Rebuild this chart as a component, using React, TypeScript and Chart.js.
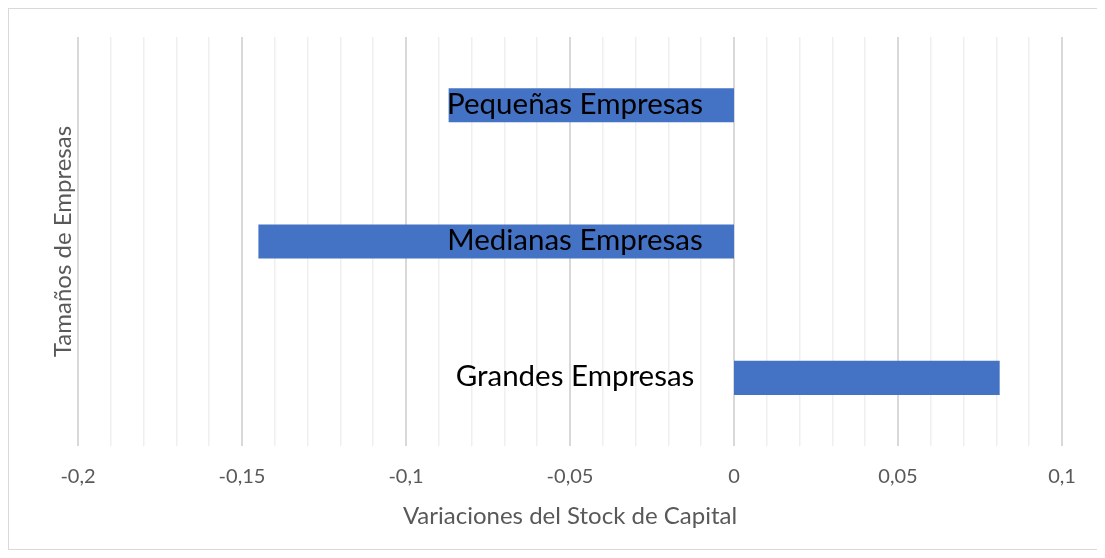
import React, { useEffect, useRef } from "react";
import { Chart, registerables } from "chart.js";

Chart.register(...registerables);

const categories = ["Pequeñas Empresas", "Medianas Empresas", "Grandes Empresas"];
const values = [-0.087, -0.145, 0.081];
const xMin = -0.2;
const xMax = 0.1;
const minorStep = 0.01;
const majorStep = 0.05;
const xTitle = "Variaciones del Stock de Capital";
const yTitle = "Tamaños de Empresas";

const FONT = "Lato, 'Open Sans', sans-serif";

const isMajor = (v: number) => Math.abs(v / majorStep - Math.round(v / majorStep)) < 1e-6;

const categoryLabelPlugin = {
  id: "categoryLabels",
  afterDatasetsDraw(chart: any) {
    const { ctx } = chart;
    const xs = chart.scales.x;
    const ys = chart.scales.y;
    const zero = xs.getPixelForValue(0);
    ctx.save();
    ctx.font = `29.5px ${FONT}`;
    ctx.fillStyle = "#000000";
    ctx.textAlign = "center";
    ctx.textBaseline = "middle";
    categories.forEach((label, i) => {
      ctx.fillText(label, zero - 159, ys.getPixelForValue(i) - 1);
    });
    ctx.restore();
  },
};

export default function App() {
  const ref = useRef<HTMLCanvasElement | null>(null);

  useEffect(() => {
    if (!ref.current) return;
    const chart = new Chart(ref.current, {
      type: "bar",
      data: {
        labels: categories,
        datasets: [
          {
            data: values,
            backgroundColor: "#4472C4",
            borderWidth: 0,
            barPercentage: 1,
            categoryPercentage: 0.25,
          },
        ],
      },
      options: {
        indexAxis: "y",
        animation: false,
        responsive: false,
        maintainAspectRatio: false,
        layout: { padding: { top: 28, right: 35, left: 0, bottom: 0 } },
        plugins: {
          legend: { display: false },
          tooltip: { enabled: false },
        },
        scales: {
          x: {
            type: "linear",
            min: xMin,
            max: xMax,
            afterFit: (s: any) => {
              s.height = 103;
            },
            border: { display: false },
            grid: {
              drawTicks: false,
              color: (c: any) => (c.tick && isMajor(c.tick.value) ? "#d9d9d9" : "#efefef"),
              lineWidth: (c: any) => (c.tick && isMajor(c.tick.value) ? 2 : 1.5),
            },
            ticks: {
              stepSize: minorStep,
              autoSkip: false,
              maxRotation: 0,
              padding: 19,
              color: "#595959",
              font: { family: FONT, size: 20 },
              callback: (v: any) => {
                const n = Number(v);
                if (!isMajor(n)) return "";
                return String(Math.round(n * 100) / 100).replace(".", ",");
              },
            },
            title: {
              display: true,
              text: xTitle,
              color: "#595959",
              font: { family: FONT, size: 24 },
              padding: { top: 0, bottom: 18.6 },
            },
          },
          y: {
            type: "category",
            afterFit: (s: any) => {
              s.width = 69;
            },
            border: { display: false },
            grid: { display: false, drawTicks: false },
            ticks: { display: false },
            title: {
              display: true,
              text: yTitle,
              color: "#595959",
              font: { family: FONT, size: 24 },
              padding: { top: 39.6, bottom: 0 },
            },
          },
        },
      },
      plugins: [categoryLabelPlugin],
    });
    return () => chart.destroy();
  }, []);

  return (
    <div
      style={{
        width: 1090,
        height: 542,
        border: "1px solid #d9d9d9",
        boxSizing: "border-box",
        background: "#ffffff",
      }}
    >
      <canvas ref={ref} width={1088} height={540} style={{ display: "block", width: 1088, height: 540 }} />
    </div>
  );
}
